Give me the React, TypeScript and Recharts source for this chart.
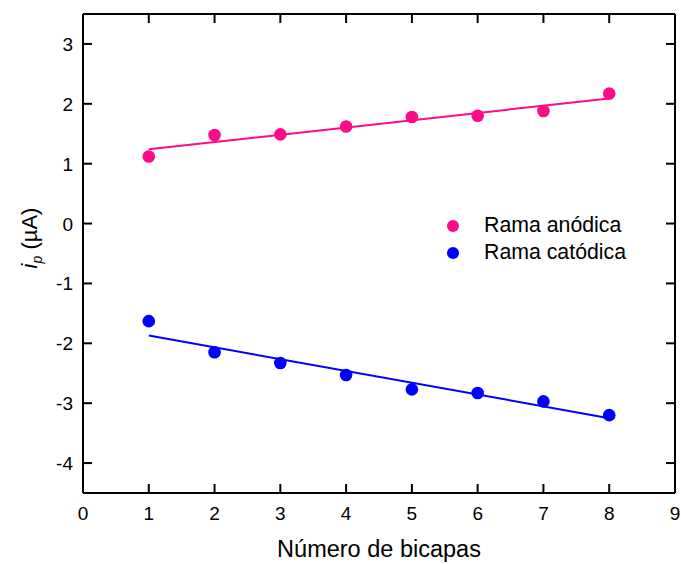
import { ComposedChart, Scatter, Line, XAxis, YAxis, ReferenceLine } from "recharts";

const bicapas = [1, 2, 3, 4, 5, 6, 7, 8];
const anodica = [1.12, 1.48, 1.49, 1.62, 1.78, 1.8, 1.88, 2.17];
const catodica = [-1.63, -2.15, -2.33, -2.53, -2.77, -2.83, -2.97, -3.2];

// fitted lines, endpoints
const fitX = [1, 8];
const fitAnodica = [1.24, 2.09];
const fitCatodica = [-1.87, -3.25];

const xTicks = [0, 1, 2, 3, 4, 5, 6, 7, 8, 9];
const yTicks = [-4, -3, -2, -1, 0, 1, 2, 3];
const xDomain = [0, 9];
const yDomain = [-4.5, 3.5];

const PINK = "#ff0a88";
const BLUE = "#0000ff";
const FONT = "'Liberation Sans', Arial, sans-serif";

const PLOT = { left: 83, top: 14, right: 675, bottom: 493 };
// inward tick length (≈9px) in data units
const TICK_X = 0.137;
const TICK_Y = 0.15;

const anodicaData = bicapas.map((x, i) => ({ x, y: anodica[i] }));
const catodicaData = bicapas.map((x, i) => ({ x, y: catodica[i] }));
const fitAData = fitX.map((x, i) => ({ x, y: fitAnodica[i] }));
const fitCData = fitX.map((x, i) => ({ x, y: fitCatodica[i] }));

const axisLine = { stroke: "#000", strokeWidth: 2 };

const BottomTick = ({ x, payload }: any) => (
  <text x={x} y={520} textAnchor="middle" fontSize={19} fontFamily={FONT} fill="#000">
    {payload.value}
  </text>
);

const LeftTick = ({ y, payload }: any) => (
  <text x={73} y={y + 7} textAnchor="end" fontSize={19} fontFamily={FONT} fill="#000">
    {payload.value}
  </text>
);

const Dot = (color: string) => (props: any) => (
  <circle cx={props.cx} cy={props.cy} r={6.3} fill={color} />
);

const legendItems = [
  { name: "Rama anódica", color: PINK },
  { name: "Rama catódica", color: BLUE },
];

const LegendBox = () => (
  <div
    style={{
      position: "absolute",
      left: 447,
      top: 212,
      fontFamily: FONT,
      fontSize: 21.3,
      color: "#000",
      lineHeight: "27px",
    }}
  >
    {legendItems.map((it) => (
      <div key={it.name} style={{ display: "flex", alignItems: "center" }}>
        <span
          style={{
            display: "inline-block",
            width: 12,
            height: 12,
            borderRadius: 6,
            background: it.color,
            marginRight: 25,
          }}
        />
        {it.name}
      </div>
    ))}
  </div>
);

// inward tick marks on all four sides of the frame
const tickSegments = [
  ...xTicks.map((t) => [{ x: t, y: yDomain[0] }, { x: t, y: yDomain[0] + TICK_Y }]),
  ...xTicks.map((t) => [{ x: t, y: yDomain[1] }, { x: t, y: yDomain[1] - TICK_Y }]),
  ...yTicks.map((t) => [{ x: xDomain[0], y: t }, { x: xDomain[0] + TICK_X, y: t }]),
  ...yTicks.map((t) => [{ x: xDomain[1], y: t }, { x: xDomain[1] - TICK_X, y: t }]),
];

export default function App() {
  return (
    <div style={{ position: "absolute", left: 0, top: 0, width: 681, height: 564, background: "#fff" }}>
      <ComposedChart
        width={681}
        height={564}
        margin={{ top: PLOT.top - 1, right: 681 - PLOT.right - 1, left: 23, bottom: 0 }}
      >
        <XAxis
          xAxisId="bottom"
          dataKey="x"
          type="number"
          domain={xDomain}
          ticks={xTicks}
          height={71}
          axisLine={axisLine}
          tickLine={false}
          tick={<BottomTick />}
          interval={0}
        />
        <XAxis
          xAxisId="top"
          dataKey="x"
          orientation="top"
          type="number"
          domain={xDomain}
          ticks={xTicks}
          height={1}
          axisLine={axisLine}
          tickLine={false}
          tick={false}
        />
        <YAxis
          yAxisId="left"
          type="number"
          domain={yDomain}
          ticks={yTicks}
          width={60}
          axisLine={axisLine}
          tickLine={false}
          tick={<LeftTick />}
          interval={0}
        />
        <YAxis
          yAxisId="right"
          orientation="right"
          type="number"
          domain={yDomain}
          ticks={yTicks}
          width={1}
          axisLine={axisLine}
          tickLine={false}
          tick={false}
        />
        {tickSegments.map((seg, i) => (
          <ReferenceLine
            key={`tick-${i}`}
            xAxisId="bottom"
            yAxisId="left"
            segment={seg}
            stroke="#000"
            strokeWidth={2}
          />
        ))}
        <Line
          xAxisId="bottom"
          yAxisId="left"
          data={fitAData}
          dataKey="y"
          stroke={PINK}
          strokeWidth={2}
          dot={false}
          isAnimationActive={false}
        />
        <Line
          xAxisId="bottom"
          yAxisId="left"
          data={fitCData}
          dataKey="y"
          stroke={BLUE}
          strokeWidth={2}
          dot={false}
          isAnimationActive={false}
        />
        <Scatter
          xAxisId="bottom"
          yAxisId="left"
          name="Rama anódica"
          data={anodicaData}
          dataKey="y"
          fill={PINK}
          shape={Dot(PINK)}
          isAnimationActive={false}
        />
        <Scatter
          xAxisId="bottom"
          yAxisId="left"
          name="Rama catódica"
          data={catodicaData}
          dataKey="y"
          fill={BLUE}
          shape={Dot(BLUE)}
          isAnimationActive={false}
        />
        <text x={379} y={557} textAnchor="middle" fontSize={23.5} fontFamily={FONT} fill="#000">
          Número de bicapas
        </text>
        <text
          transform="translate(37,238) rotate(-90)"
          textAnchor="middle"
          fontSize={22}
          fontFamily={FONT}
          fill="#000"
        >
          <tspan fontStyle="italic">i</tspan>
          <tspan fontStyle="italic" fontSize={14} dy={5}>p</tspan>
          <tspan dy={-5}> (µA)</tspan>
        </text>
      </ComposedChart>
      <LegendBox />
    </div>
  );
}
